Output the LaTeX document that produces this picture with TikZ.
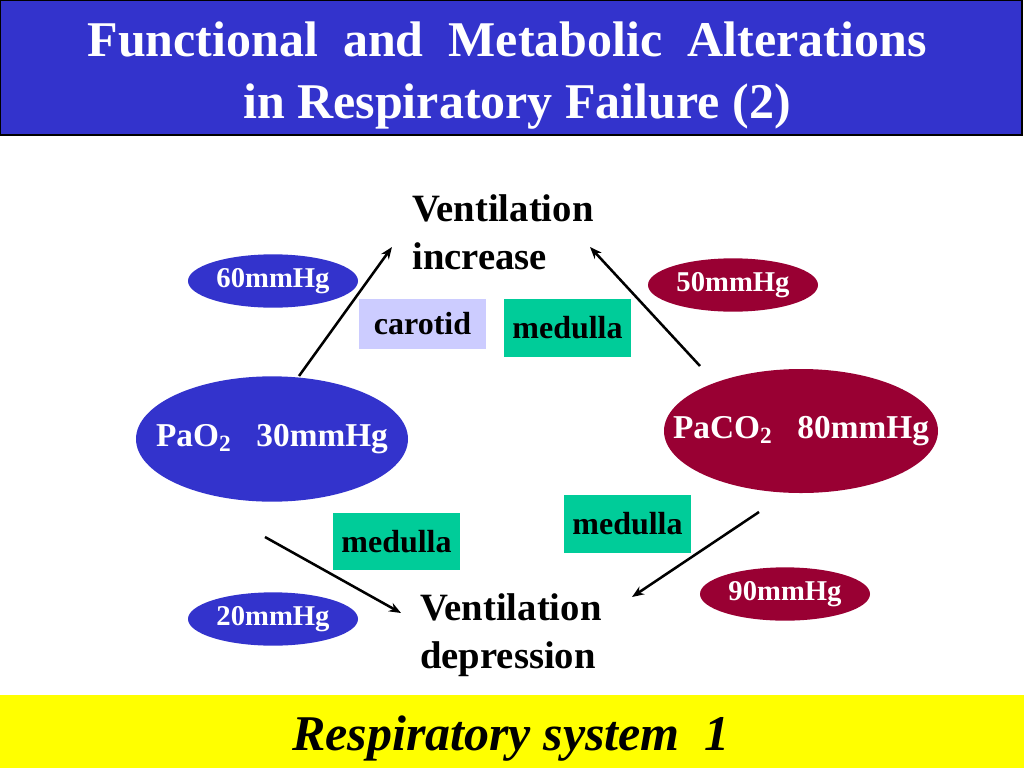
\documentclass[tikz,border=0pt]{standalone}
\usepackage{fontspec}
\setmainfont{Liberation Serif}[BoldFont={Liberation Serif Bold},ItalicFont={Liberation Serif Italic},BoldItalicFont={Liberation Serif Bold Italic}]
\usetikzlibrary{shapes.geometric,arrows.meta}
\definecolor{bandblue}{RGB}{51,51,204}
\definecolor{ovblue}{RGB}{51,51,204}
\definecolor{ovred}{RGB}{153,0,51}
\definecolor{medteal}{RGB}{0,204,153}
\definecolor{lav}{RGB}{204,204,255}
\definecolor{bandyellow}{RGB}{255,255,0}
\begin{document}
\begin{tikzpicture}[x=0.75pt,y=-0.75pt,
  bigov/.style={ellipse,inner sep=0pt,minimum width=204pt,minimum height=94pt,text=white,font=\bfseries\fontsize{25}{30}\selectfont},
  smallov/.style={ellipse,inner sep=0pt,minimum width=127.5pt,minimum height=40pt,text=white,font=\bfseries\fontsize{21.5}{26}\selectfont},
  tagbox/.style={rectangle,inner sep=0pt,minimum width=95pt,text=black,font=\bfseries\fontsize{24}{28}\selectfont},
  venttext/.style={align=left,inner sep=0pt,font=\bfseries\fontsize{29}{36}\selectfont},
  arr/.style={line width=1.9pt,-{Stealth[length=9pt,width=7pt]}}]
\useasboundingbox (0,0) rectangle (1024,768);
% title band
\fill[bandblue,draw=black,line width=1pt] (0,0) rectangle (1022,135);
\node[anchor=base,text=white,font=\bfseries\fontsize{37.5}{45}\selectfont] (t1) at (507,56) {Functional\ \ and\ \ Metabolic\ \ Alterations};
\node[anchor=base,text=white,font=\bfseries\fontsize{37.5}{45}\selectfont] (t2) at (517,118) {in Respiratory Failure (2)};
% bottom band
\fill[bandyellow] (0,695) rectangle (1024,768);
\node[anchor=base,font=\bfseries\itshape\fontsize{37.5}{45}\selectfont] (foot) at (511,750) {Respiratory system\ \ 1};
% main nodes
\node[bigov,fill=ovblue] (pao2) at (272,439) {\makebox[0pt]{\raisebox{-3.5pt}{PaO\textsubscript{2}\ \ \ 30mmHg}}};
\node[bigov,fill=ovred,minimum width=205.5pt,minimum height=93pt] (paco2) at (801,431) {\makebox[0pt]{\raisebox{-4pt}{PaCO\textsubscript{2}\ \ \ 80mmHg}}};
\node[smallov,fill=ovblue] (p60) at (273,281) {\makebox[0pt]{60mmHg}};
\node[smallov,fill=ovblue] (p20) at (273,619) {\makebox[0pt]{20mmHg}};
\node[smallov,fill=ovred] (p50) at (733,285) {\makebox[0pt]{50mmHg}};
\node[smallov,fill=ovred] (p90) at (785,594) {\makebox[0pt]{90mmHg}};
\node[tagbox,fill=lav,minimum height=37.5pt] (car) at (422.5,324) {carotid};
\node[tagbox,fill=medteal,minimum height=43.5pt] (med1) at (567.5,328) {medulla};
\node[tagbox,fill=medteal,minimum height=43pt] (med2) at (396.5,541.5) {medulla};
\node[tagbox,fill=medteal,minimum height=43.5pt] (med3) at (627.5,524) {medulla};
\node[venttext,anchor=base west] (vinc) at (412,269) {Ventilation\\increase};
\node[venttext,anchor=base west] (vdep) at (420,668) {Ventilation\\depression};
% arrows
\coordinate (a1s) at (299,376);
\coordinate (a1e) at (392,247);
\coordinate (a2s) at (700,366);
\coordinate (a2e) at (590,247);
\coordinate (a3s) at (265,537);
\coordinate (a3e) at (401,613);
\coordinate (a4s) at (759,512);
\coordinate (a4e) at (632,597);
\draw[arr] (a1s) -- (a1e);
\draw[arr] (a2s) -- (a2e);
\draw[arr] (a3s) -- (a3e);
\draw[arr] (a4s) -- (a4e);
\end{tikzpicture}
\end{document}
